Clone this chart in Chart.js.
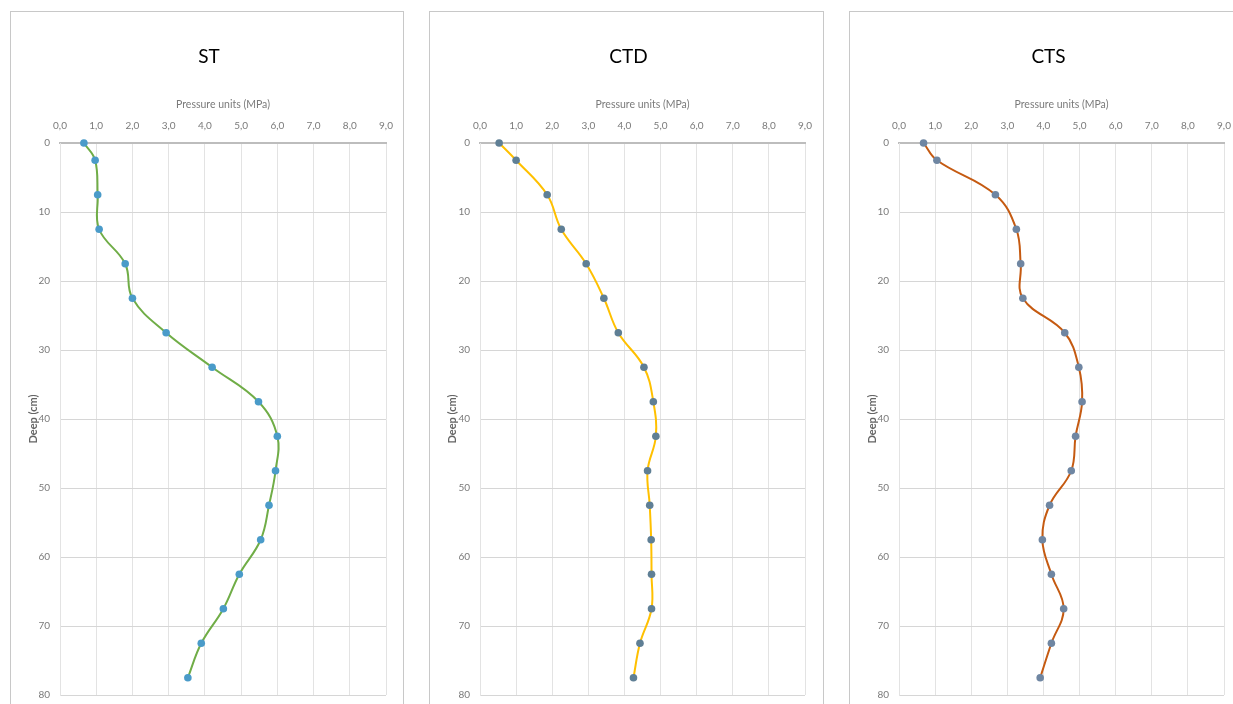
<!DOCTYPE html>
<html>
<head>
<meta charset="utf-8">
<script src="https://cdn.jsdelivr.net/npm/chart.js@4"></script>
<style>
  html, body { margin: 0; padding: 0; background: #ffffff; width: 1233px; height: 704px; overflow: hidden; }
  .panel { position: absolute; top: 11px; height: 700px; border: 1px solid #c8c8c8; background: #fff; }
  canvas { display: block; }
</style>
</head>
<body>
<div class="panel" style="left:10px;width:392px;"><canvas id="c1" width="392" height="692"></canvas></div>
<div class="panel" style="left:429px;width:393px;"><canvas id="c2" width="393" height="692"></canvas></div>
<div class="panel" style="left:849px;width:393px;"><canvas id="c3" width="393" height="692"></canvas></div>
<script>
// Depth of each measurement (cm)
const depthCm = [0, 2.5, 7.5, 12.5, 17.5, 22.5, 27.5, 32.5, 37.5, 42.5, 47.5, 52.5, 57.5, 62.5, 67.5, 72.5, 77.5];
// Pressure (MPa) per panel
const stPressure  = [0.66, 0.97, 1.04, 1.08, 1.80, 2.00, 2.93, 4.20, 5.48, 6.00, 5.95, 5.77, 5.54, 4.95, 4.51, 3.90, 3.53];
const ctdPressure = [0.53, 1.00, 1.86, 2.25, 2.94, 3.43, 3.83, 4.54, 4.80, 4.87, 4.64, 4.70, 4.74, 4.75, 4.75, 4.43, 4.25];
const ctsPressure = [0.68, 1.05, 2.67, 3.25, 3.37, 3.43, 4.59, 4.98, 5.07, 4.89, 4.77, 4.17, 3.97, 4.22, 4.56, 4.22, 3.91];
// Axis ticks
const pressureTicks = [0, 1, 2, 3, 4, 5, 6, 7, 8, 9];
const depthTicks = [0, 10, 20, 30, 40, 50, 60, 70, 80];
const panelTitles = ['ST', 'CTD', 'CTS'];
const xAxisTitle = 'Pressure units (MPa)';
const yAxisTitle = 'Deep (cm)';

const tickFont = "'Liberation Sans Narrow', Lato, sans-serif";
const textFont = "Lato, 'Open Sans', sans-serif";

function makeChart(id, title, values, lineColor, markerColor, yWidth, padRight) {
  const pts = values.map((v, i) => ({ x: v, y: depthCm[i] }));
  new Chart(document.getElementById(id), {
    type: 'scatter',
    data: {
      datasets: [{
        data: pts,
        showLine: true,
        tension: 0.4,
        borderColor: lineColor,
        borderWidth: 2,
        pointRadius: 3.8,
        pointBackgroundColor: markerColor,
        pointBorderWidth: 0,
        pointHoverRadius: 3.8,
        clip: false
      }]
    },
    options: {
      responsive: false,
      animation: false,
      devicePixelRatio: 1,
      layout: { padding: { left: 4, right: 0, top: 0, bottom: 9 } },
      plugins: {
        legend: { display: false },
        tooltip: { enabled: false },
        title: {
          display: true,
          text: title,
          color: '#000000',
          font: { family: textFont, size: 19, weight: 'normal' },
          padding: { top: 33.6, bottom: 0 }
        }
      },
      scales: {
        x: {
          type: 'linear',
          position: 'top',
          min: pressureTicks[0],
          max: pressureTicks[pressureTicks.length - 1],
          afterBuildTicks: (s) => { s.ticks = pressureTicks.map(v => ({ value: v })); },
          afterFit: (s) => { s.height = 74.6; s.paddingRight = padRight; },
          ticks: {
            color: '#7a7a7a',
            font: { family: tickFont, size: 10 },
            padding: 11,
            maxRotation: 0,
            callback: (v) => Number(v).toFixed(1).replace('.', ',')
          },
          grid: { color: '#e3e3e3', lineWidth: 1, drawTicks: false },
          border: { color: '#bdbdbd', width: 2 },
          title: {
            display: true,
            text: xAxisTitle,
            color: '#7a7a7a',
            font: { family: tickFont, size: 10.5 },
            padding: { top: 29.8, bottom: 0 }
          }
        },
        y: {
          type: 'linear',
          reverse: true,
          min: depthTicks[0],
          max: depthTicks[depthTicks.length - 1],
          afterBuildTicks: (s) => { s.ticks = depthTicks.map(v => ({ value: v })); },
          afterFit: (s) => { s.width = yWidth; s.paddingTop = 0; s.paddingBottom = 0; },
          ticks: {
            color: '#7a7a7a',
            font: { family: tickFont, size: 10 },
            padding: 10
          },
          grid: { color: '#d6d6d6', lineWidth: 1, drawTicks: false },
          border: { color: '#e3e3e3', width: 1 },
          title: {
            display: true,
            text: yAxisTitle,
            color: '#666666',
            font: { family: textFont, size: 11, weight: 'bold' },
            padding: { top: 11.4, bottom: 0 }
          }
        }
      }
    }
  });
}

makeChart('c1', panelTitles[0], stPressure,  '#70AD47', '#4A9BC9', 45, 17);
makeChart('c2', panelTitles[1], ctdPressure, '#FFC000', '#5F7F95', 46, 18);
makeChart('c3', panelTitles[2], ctsPressure, '#C55A11', '#6F86A2', 45, 19);
</script>
</body>
</html>
